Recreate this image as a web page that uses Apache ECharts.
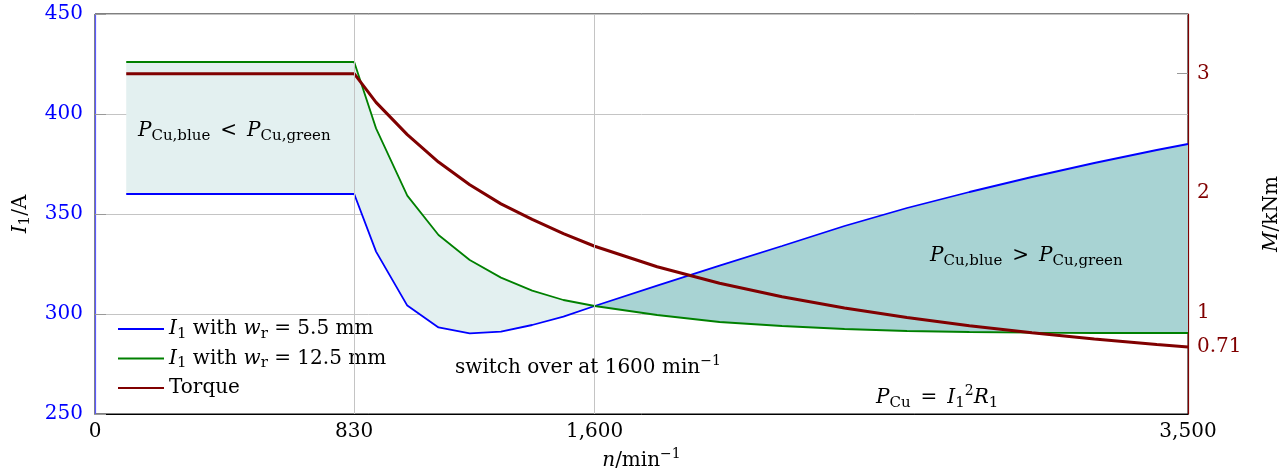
<!DOCTYPE html>
<html>
<head>
<meta charset="utf-8">
<script src="https://cdn.jsdelivr.net/npm/echarts@6/dist/echarts.min.js"></script>
<style>
  html, body { margin: 0; padding: 0; background: #fff; }
  #chart { width: 1288px; height: 468px; }
</style>
</head>
<body>
<div id="chart"></div>
<script>
// speed n in 1/min
const speed = [100, 830, 900, 1000, 1100, 1200, 1300, 1400, 1500, 1600,
  1800, 2000, 2200, 2400, 2600, 2800, 3000, 3200, 3400, 3500];
// I1 with w_r = 5.5 mm
const currentBlue = [360, 360, 331.2, 304.2, 293.3, 290.3, 291.2, 294.5, 298.7, 304,
  314.2, 324.2, 334, 344, 353, 361, 368.5, 375.5, 382, 385];
// I1 with w_r = 12.5 mm
const currentGreen = [426, 426, 392.8, 359.2, 339.5, 327, 318.2, 311.7, 307, 304,
  299.5, 296, 294, 292.5, 291.5, 291, 290.7, 290.5, 290.5, 290.5];
// torque in kNm
const torque = [3.0, 3.0, 2.76, 2.49, 2.26, 2.07, 1.91, 1.78, 1.66, 1.555,
  1.383, 1.245, 1.132, 1.038, 0.958, 0.889, 0.830, 0.778, 0.732, 0.711];

const xTicks = [0, 830, 1600, 3500];
const rightTicks = [1, 2, 3];
const rightLabels = [0.71, 1, 2, 3];
const switchSpeed = 1600;
const switchIndex = speed.indexOf(switchSpeed);

const FONT = '"DejaVu Serif", "Liberation Serif", serif';
const FS = 20;
const rich = {
  it: { fontFamily: FONT, fontSize: FS, fontStyle: 'italic', color: '#000' },
  n: { fontFamily: FONT, fontSize: FS, color: '#000' },
  sub: { fontFamily: FONT, fontSize: 15, color: '#000', padding: [10, 0, 0, 0] },
  sup: { fontFamily: FONT, fontSize: 14, color: '#000', padding: [0, 0, 14, 0] }
};

const pairs = (ys, from, to) => speed.slice(from, to).map((n, i) => [n, ys[i + from]]);

// area between two curves, drawn through the axis scales
function fillBetween(from, to, upper, lower, color) {
  return {
    type: 'custom', silent: true, z: 1, clip: true,
    data: [[speed[from], lower[from]]],
    renderItem: (params, api) => {
      const pts = [];
      for (let i = from; i < to; i++) pts.push(api.coord([speed[i], upper[i]]));
      for (let i = to - 1; i >= from; i--) pts.push(api.coord([speed[i], lower[i]]));
      return { type: 'polygon', shape: { points: pts }, style: { fill: color } };
    }
  };
}

const legendNames = {
  blue: '{it|I}{sub|1}{n| with }{it|w}{sub|r}{n| = 5.5 mm}',
  green: '{it|I}{sub|1}{n| with }{it|w}{sub|r}{n| = 12.5 mm}',
  Torque: '{n|Torque}'
};

const chart = echarts.init(document.getElementById('chart'));
chart.setOption({
  animation: false,
  textStyle: { fontFamily: FONT },
  grid: {
    left: 95, right: 100, top: 14, bottom: 54, outerBoundsMode: 'none',
    show: true, borderColor: '#000', borderWidth: 1
  },
  legend: {
    left: 112, top: 314, orient: 'vertical',
    itemWidth: 46, itemHeight: 14, itemGap: 7,
    data: ['blue', 'green', 'Torque'],
    itemStyle: { opacity: 0 },
    formatter: name => legendNames[name],
    textStyle: { fontFamily: FONT, fontSize: FS, color: '#000', rich: rich }
  },
  xAxis: {
    type: 'value', min: 0, max: 3500,
    name: '{it|n}{n|/min}{sup|−1}', nameLocation: 'middle', nameGap: 27,
    nameTextStyle: { rich: rich },
    axisLine: { onZero: false, lineStyle: { color: '#000', width: 1 } },
    axisTick: { show: false },
    splitLine: { show: false },
    axisLabel: {
      customValues: xTicks, color: '#000', fontSize: FS, fontFamily: FONT, margin: 8,
      formatter: v => v.toLocaleString('en-US')
    }
  },
  yAxis: [
    {
      type: 'value', min: 250, max: 450, interval: 50,
      name: '{it|I}{sub|1}{n|/A}', nameLocation: 'middle', nameGap: 62,
      nameTextStyle: { rich: rich },
      axisLine: { show: true, lineStyle: { color: '#5a5aff', width: 1.2 } },
      axisTick: { show: true, inside: true, length: 11, lineStyle: { color: '#999' } },
      splitLine: { show: true, lineStyle: { color: '#c4c4c4', width: 1 } },
      axisLabel: { color: '#0000ff', fontSize: FS, fontFamily: FONT, margin: 12 }
    },
    {
      type: 'value', min: 0.15, max: 3.5, position: 'right',
      name: '{it|M}{n|/kNm}', nameLocation: 'middle', nameGap: 74, nameRotate: 90,
      nameTextStyle: { rich: rich },
      axisLine: { show: true, onZero: false, lineStyle: { color: '#800000', width: 1.2 } },
      axisTick: { show: true, inside: true, length: 11, customValues: rightTicks, lineStyle: { color: '#999' } },
      splitLine: { show: false },
      axisLabel: { customValues: rightLabels, color: '#800000', fontSize: FS, fontFamily: FONT, margin: 9 }
    }
  ],
  graphic: [
    {
      type: 'text', left: 138, top: 121, z: 100, silent: true,
      style: { text: '{it|P}{sub|Cu,blue}{n|\u2002<\u2002}{it|P}{sub|Cu,green}', rich: rich }
    },
    {
      type: 'text', left: 930, top: 246, z: 100, silent: true,
      style: { text: '{it|P}{sub|Cu,blue}{n|\u2002>\u2002}{it|P}{sub|Cu,green}', rich: rich }
    },
    {
      type: 'text', left: 455, top: 354, z: 100, silent: true,
      style: { text: '{n|switch over at 1600 min}{sup|−1}', rich: rich }
    },
    {
      type: 'text', left: 876, top: 384, z: 100, silent: true,
      style: { text: '{it|P}{sub|Cu}{n|\u2002=\u2002}{it|I}{sub|1}{sup|2}{it|R}{sub|1}', rich: rich }
    }
  ],
  series: [
    fillBetween(0, switchIndex + 1, currentGreen, currentBlue, '#e3f0f0'),
    fillBetween(switchIndex, speed.length, currentBlue, currentGreen, '#a8d3d3'),
    {
      type: 'line', name: 'blue', data: pairs(currentBlue, 0, speed.length), symbol: 'none',
      lineStyle: { color: '#0000ff', width: 1.8 }, itemStyle: { color: '#0000ff' }, z: 3,
      markLine: {
        silent: true, symbol: 'none', label: { show: false },
        lineStyle: { color: '#c4c4c4', width: 1, type: 'solid' },
        data: [{ xAxis: 830 }, { xAxis: switchSpeed }]
      }
    },
    {
      type: 'line', name: 'green', data: pairs(currentGreen, 0, speed.length), symbol: 'none',
      lineStyle: { color: '#008000', width: 1.8 }, itemStyle: { color: '#008000' }, z: 3
    },
    {
      type: 'line', name: 'Torque', yAxisIndex: 1, data: pairs(torque, 0, speed.length), symbol: 'none',
      lineStyle: { color: '#800000', width: 3 }, itemStyle: { color: '#800000' }, z: 4
    }
  ]
});
</script>
</body>
</html>
